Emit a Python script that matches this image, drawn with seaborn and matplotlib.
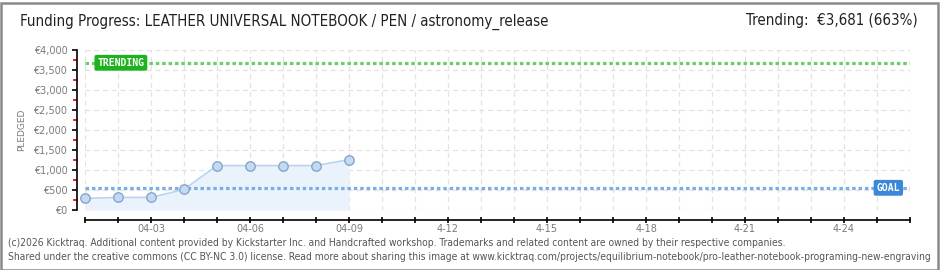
import matplotlib
matplotlib.use("Agg")
import matplotlib.pyplot as plt
import matplotlib.dates as mdates
from matplotlib.ticker import FixedLocator
from matplotlib.patches import Rectangle
import seaborn as sns
import pandas as pd

# ---- data ----
dates = pd.date_range("2026-04-01", "2026-04-09", freq="D")
pledged = [290, 315, 315, 515, 1110, 1110, 1110, 1110, 1260]
goal = 555
trending = 3681
x_start = pd.Timestamp("2026-04-01")
x_end = pd.Timestamp("2026-04-26")
xtick_dates = pd.date_range("2026-04-03", "2026-04-24", freq="3D")
xtick_labels = ["04-03", "04-06", "04-09", "4-12", "4-15", "4-18", "4-21", "4-24"]
ytick_values = list(range(0, 4001, 500))
ytick_labels = ["€0", "€500", "€1,000", "€1,500", "€2,000", "€2,500", "€3,000", "€3,500", "€4,000"]
title = "Funding Progress: LEATHER UNIVERSAL NOTEBOOK / PEN / astronomy_release"
trend_text = "Trending:  €3,681 (663%)"
footer1 = ("(c)2026 Kicktraq. Additional content provided by Kickstarter Inc. and Handcrafted workshop. "
           "Trademarks and related content are owned by their respective companies.")
footer2 = ("Shared under the creative commons (CC BY-NC 3.0) license. Read more about sharing this image at "
           "www.kicktraq.com/projects/equilibrium-notebook/pro-leather-notebook-programing-new-engraving")

df = pd.DataFrame({"date": dates, "pledged": pledged})

sns.set_style("white")
plt.rcParams["font.family"] = ["DejaVu Sans"]

W, H = 940, 270
PT = 72 / 100  # points per pixel
fig = plt.figure(figsize=(W / 100, H / 100), dpi=100)
fig.patch.set_facecolor("white")

L, R, T, B = 85, 910, 50, 210
ax = fig.add_axes([L / W, 1 - B / H, (R - L) / W, (B - T) / H])
ax.set_facecolor("none")

# fill + line
ax.fill_between(df["date"], df["pledged"], 0, color="#eaf2fc", zorder=1, lw=0)
sns.lineplot(data=df, x="date", y="pledged", ax=ax, color="#b9d4f1", lw=1.2,
             marker="o", markersize=6.8, markerfacecolor="#c2daf5",
             markeredgecolor="#8aa4c6", markeredgewidth=1, zorder=3, clip_on=False)

# goal & trending lines
ax.axhline(goal, color="#79aee6", lw=2.3, ls=(0, (1.1, 0.9)), zorder=2)
ax.axhline(trending, color="#6ccd6c", lw=2.3, ls=(0, (1.1, 0.9)), zorder=2)

ax.text(0.015, trending, "TRENDING", transform=ax.get_yaxis_transform(),
        ha="left", va="center", color="white", fontsize=7, fontweight="bold",
        family="DejaVu Sans Mono",
        bbox=dict(boxstyle="round,pad=0.3,rounding_size=0.2", fc="#1fb21f", ec="none"), zorder=5)
ax.text(0.988, goal, "GOAL", transform=ax.get_yaxis_transform(),
        ha="right", va="center", color="white", fontsize=7, fontweight="bold",
        family="DejaVu Sans Mono",
        bbox=dict(boxstyle="round,pad=0.3,rounding_size=0.2", fc="#3b88d8", ec="none"), zorder=5)

# limits
ax.set_xlim(x_start, x_end)
ax.set_ylim(0, 4000)

# grid (dashed)
for d in pd.date_range(x_start, x_end, freq="D"):
    ax.axvline(d, color="#e2e2e2", lw=0.9, ls=(0, (4, 3)), zorder=0)
for v in ytick_values:
    ax.axhline(v, color="#e2e2e2", lw=0.9, ls=(0, (4, 3)), zorder=0)

# spines
for s in ["top", "right"]:
    ax.spines[s].set_visible(False)
ax.spines["left"].set_position(("outward", 8 * PT))
ax.spines["bottom"].set_position(("outward", 10 * PT))
ax.spines["left"].set_bounds(0, 4000)
ax.spines["bottom"].set_bounds(mdates.date2num(x_start), mdates.date2num(x_end))
for s in ["left", "bottom"]:
    ax.spines[s].set_color("black")
    ax.spines[s].set_linewidth(1.2)

# y ticks
ax.yaxis.set_major_locator(FixedLocator(ytick_values))
ax.set_yticklabels(ytick_labels)
ax.yaxis.set_minor_locator(FixedLocator([v + 250 for v in ytick_values[:-1]]))
ax.tick_params(axis="y", which="both", left=True)
ax.tick_params(axis="y", which="major", direction="out", length=5.5 * PT, width=1.2, color="black",
               labelsize=7, labelcolor="#7a7a7a", pad=3)
ax.tick_params(axis="y", which="minor", direction="out", length=4 * PT, width=1.2, color="#e00000")
ax.set_ylabel("PLEDGED", fontsize=6.5, color="#7a7a7a", labelpad=5)

# x ticks: minor every day, labeled every 3 days
all_days = pd.date_range(x_start, x_end, freq="D")
ax.xaxis.set_minor_locator(FixedLocator(mdates.date2num(all_days)))
ax.xaxis.set_major_locator(FixedLocator(mdates.date2num(xtick_dates)))
ax.set_xticklabels(xtick_labels)
ax.tick_params(axis="x", which="both", bottom=True, direction="inout", length=6 * PT,
               width=1.2, color="black")
ax.tick_params(axis="x", which="major", labelsize=7, labelcolor="#7a7a7a", pad=1)
ax.set_xlabel("")

# titles
fig.text(20 / W, 1 - 22 / H, title, ha="left", va="center", fontsize=10.8, color="#222",
         family="DejaVu Sans", fontstretch="condensed")
fig.text(918 / W, 1 - 21 / H, trend_text, ha="right", va="center", fontsize=10.8, color="#222",
         family="DejaVu Sans", fontstretch="condensed")

# footer
fig.text(8 / W, 1 - 243 / H, footer1, ha="left", va="center", fontsize=7.4, color="#555",
         family="DejaVu Sans", fontstretch="condensed")
fig.text(8 / W, 1 - 257 / H, footer2, ha="left", va="center", fontsize=7.4, color="#555",
         family="DejaVu Sans", fontstretch="condensed")

# border
fig.patches.append(Rectangle((0.5 / W, 0.5 / H), (W - 3) / W, (H - 3) / H,
                             transform=fig.transFigure, fill=False, ec="#8a8a8a", lw=1.8))

fig.savefig("out.png", dpi=100)
